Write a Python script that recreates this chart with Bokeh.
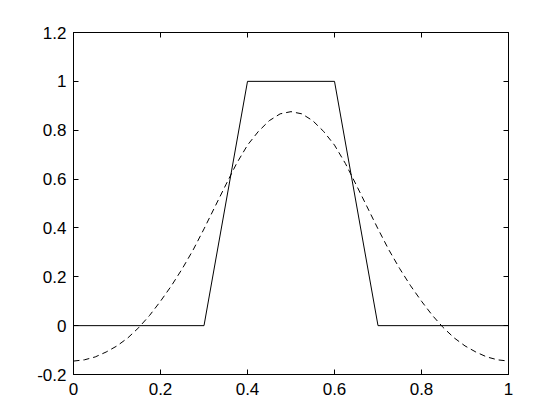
from bokeh.plotting import figure
from bokeh.models import Range1d, FixedTicker, NumeralTickFormatter, LinearAxis
from bokeh.embed import file_html
from bokeh.resources import INLINE

# Data
trap_x = [0.0, 0.3, 0.4, 0.6, 0.7, 1.0]
trap_y = [0.0, 0.0, 1.0, 1.0, 0.0, 0.0]

approx_x = [0.0, 0.025, 0.05, 0.075, 0.1, 0.125, 0.15, 0.175, 0.2, 0.225, 0.25,
            0.275, 0.3, 0.325, 0.35, 0.375, 0.4, 0.425, 0.45, 0.475, 0.5,
            0.525, 0.55, 0.575, 0.6, 0.625, 0.65, 0.675, 0.7, 0.725, 0.75,
            0.775, 0.8, 0.825, 0.85, 0.875, 0.9, 0.925, 0.95, 0.975, 1.0]
approx_y = [-0.145, -0.14, -0.128, -0.108, -0.083, -0.05, -0.008, 0.042, 0.10, 0.163, 0.233,
            0.31, 0.396, 0.486, 0.576, 0.664, 0.739, 0.795, 0.839, 0.867, 0.876,
            0.867, 0.839, 0.795, 0.739, 0.664, 0.576, 0.486, 0.396, 0.31, 0.233,
            0.163, 0.10, 0.042, -0.008, -0.05, -0.083, -0.108, -0.128, -0.14, -0.145]

x_ticks = [0, 0.2, 0.4, 0.6, 0.8, 1.0]
y_ticks = [-0.2, 0, 0.2, 0.4, 0.6, 0.8, 1.0, 1.2]

FONT = "Liberation Sans"

p = figure(width=552, height=412, output_backend="svg", toolbar_location=None,
           x_range=Range1d(0, 1), y_range=Range1d(-0.2, 1.2),
           min_border_left=73, min_border_top=32, min_border_right=44, min_border_bottom=38)

p.background_fill_color = "white"
p.border_fill_color = "white"
p.outline_line_color = "black"
p.outline_line_width = 1
p.xgrid.visible = False
p.ygrid.visible = False

p.line(trap_x, trap_y, line_color="black", line_width=1)
p.line(approx_x, approx_y, line_color="black", line_width=1, line_dash="6 4")

def style(ax, ticks, labels=True):
    ax.ticker = FixedTicker(ticks=ticks)
    ax.formatter = NumeralTickFormatter(format="0.[0]")
    ax.major_tick_in = 5
    ax.major_tick_out = 0
    ax.minor_tick_line_color = None
    ax.axis_line_color = "black"
    ax.major_tick_line_color = "black"
    ax.major_label_text_font = FONT
    ax.major_label_text_font_size = "17px"
    ax.major_label_text_color = "black" if labels else None

style(p.xaxis[0], x_ticks)
style(p.yaxis[0], y_ticks)
p.xaxis[0].major_label_standoff = 8
p.yaxis[0].major_label_standoff = 7

top = LinearAxis()
style(top, x_ticks, labels=False)
p.add_layout(top, "above")
right = LinearAxis()
style(right, y_ticks, labels=False)
p.add_layout(right, "right")

open("out.html", "w").write(file_html(p, INLINE))
